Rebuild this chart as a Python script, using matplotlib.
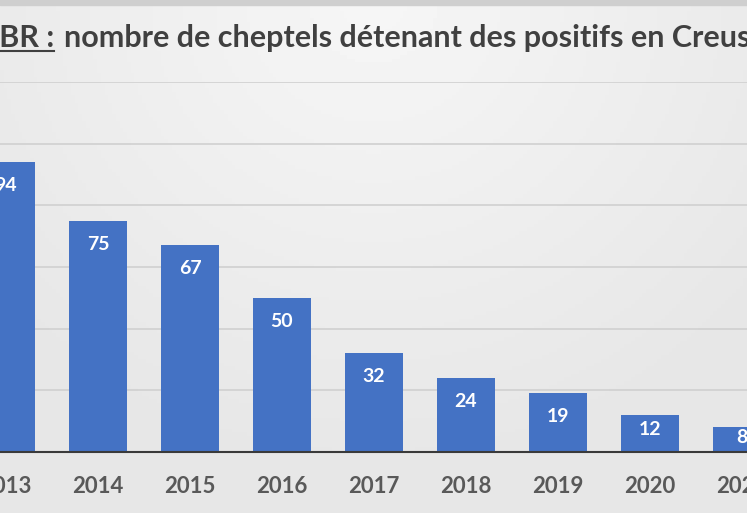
import numpy as np
import matplotlib.pyplot as plt
from matplotlib.lines import Line2D

years = ['2013', '2014', '2015', '2016', '2017', '2018', '2019', '2020', '2021']
values = [94, 75, 67, 50, 32, 24, 19, 12, 8]
title_head = 'IBR :'
title_rest = 'nombre de cheptels détenant des positifs en Creuse'

W, H = 747, 513
bg = '#e9e9e9'
fig = plt.figure(figsize=(W / 100, H / 100), dpi=100, facecolor=bg)

# soft light patch behind the top of the slide, like the reference
bg_ax = fig.add_axes([0, 0, 1, 1], zorder=-1)
gx, gy = np.meshgrid(np.linspace(-1, 1, 200), np.linspace(0, 1, 140))
d = np.sqrt((gx / 1.3) ** 2 + (gy / 0.9) ** 2)
shade = 0.965 - 0.06 * np.clip(d, 0, 1)
bg_ax.imshow(shade, cmap='gray', vmin=0, vmax=1, aspect='auto', extent=[0, 1, 0, 1])
bg_ax.axhspan(0.99, 1, color='#cfcfcf')
bg_ax.set_xlim(0, 1)
bg_ax.set_ylim(0, 1)
bg_ax.axis('off')

# axes stretch past the figure edges, the reference is a crop
x_left = -6 / 92
x_right = (W - 6) / 92
ax = fig.add_axes([0, (H - 452) / H, 1, (452 - 82) / H])
ax.set_facecolor('none')

x = list(range(len(years)))
ax.bar(x, values, width=0.62, color='#4472c4', zorder=3)

# labels sit inside the bar end, short bars push them down less
for xi, v in zip(x, values):
    ax.text(xi, max(v - 7.6, v * 0.6), str(v), ha='center', va='center', color='white',
            fontsize=14, fontweight='bold', family='Lato', zorder=4)

ax.set_xlim(x_left, x_right)
ax.set_ylim(0, 120)
ax.set_yticks(range(0, 121, 20))
ax.yaxis.grid(True, color='#d0d0d0', lw=1.2, zorder=0)
ax.tick_params(axis='y', left=False, labelleft=False)
ax.tick_params(axis='x', bottom=False, pad=14)
ax.set_xticks(x)
ax.set_xticklabels(years, fontsize=16, fontweight='bold', family='Lato', color='#595959')
for s in ['top', 'right', 'left']:
    ax.spines[s].set_visible(False)
ax.spines['bottom'].set_color('#3a3a3a')
ax.spines['bottom'].set_linewidth(1.5)
ax.spines['bottom'].set_zorder(5)

# title, partly cut off on the left, with the underlined head
ty = (H - 47) / H
tstyle = dict(fontsize=22, fontweight='bold', family='Lato', color='#404040', va='baseline')
probe = fig.text(0, ty, 'I', **tstyle)
fig.canvas.draw()
r = fig.canvas.get_renderer()
wI = probe.get_window_extent(r).width
probe.remove()
t1 = fig.text(-(wI + 1) / W, ty, title_head, **tstyle)
fig.canvas.draw()
bb = t1.get_window_extent(r)
fig.text((bb.x1 + 10) / W, ty, title_rest, **tstyle)
fig.add_artist(Line2D([bb.x0 / W, bb.x1 / W], [(bb.y0 + 1) / H] * 2,
                      transform=fig.transFigure, color='#404040', lw=1.5))

fig.savefig('out.png', dpi=100, facecolor=bg)
